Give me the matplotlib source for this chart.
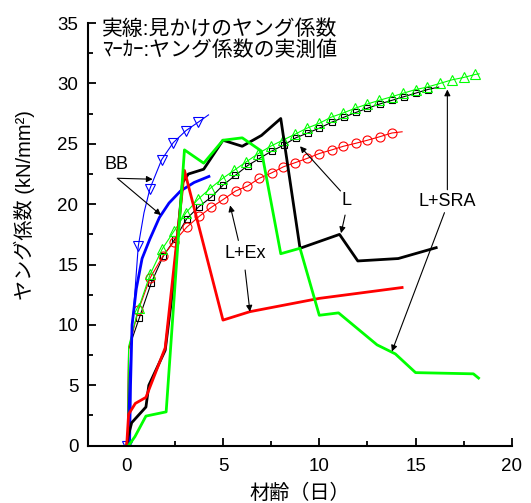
import numpy as np
import matplotlib
matplotlib.use('Agg')
import matplotlib.pyplot as plt

plt.rcParams['font.family'] = ['Liberation Sans', 'Noto Sans CJK JP']

# apparent modulus (thick lines)
bb_x = [0.15, 0.2, 0.28, 0.5, 0.8, 1.2, 1.7, 2.2, 2.8, 3.5, 4.27]
bb_y = [0.0, 5.0, 10.0, 13.0, 15.5, 17.1, 18.9, 20.1, 21.1, 21.8, 22.3]

l_x = [0.0, 0.08, 0.26, 1.0, 1.15, 2.0, 2.4, 2.9, 3.2, 4.0, 5.0, 6.0, 7.0, 8.0, 9.0, 11.05, 12.0, 14.1, 16.07]
l_y = [0.0, 0.8, 1.9, 3.2, 5.0, 7.9, 13.0, 21.8, 22.5, 22.9, 25.3, 24.8, 25.7, 27.1, 16.35, 17.5, 15.3, 15.5, 16.4]

ex_x = [0.0, 0.1, 0.45, 1.0, 2.0, 3.0, 5.0, 6.4, 10.0, 14.3]
ex_y = [0.0, 2.6, 3.5, 4.0, 8.1, 22.8, 10.4, 11.1, 12.2, 13.1]

sra_x = [0.1, 0.43, 1.0, 2.05, 3.0, 4.0, 5.0, 6.0, 7.0, 8.0, 9.0, 10.0, 11.0, 13.0, 13.95, 15.0, 18.0, 18.27]
sra_y = [0.0, 0.75, 2.45, 2.8, 24.5, 23.4, 25.3, 25.5, 24.4, 15.9, 16.35, 10.8, 11.0, 8.35, 7.6, 6.05, 5.95, 5.6]

# measured values (markers) and the fitted thin lines through them
bbm_x = [0.0, 0.6, 1.21, 1.82, 2.42, 3.08, 3.72]
bbm_y = [0.0, 16.5, 21.3, 23.7, 25.1, 26.1, 26.8]
bbf_x = [0.02, 0.15, 0.3, 0.45, 0.6, 0.9, 1.21, 1.82, 2.42, 3.08, 3.72, 4.25]
bbf_y = [0.0, 6.0, 10.0, 13.2, 16.5, 19.3, 21.3, 23.7, 25.1, 26.1, 26.8, 27.4]

lm_x = [0.66, 1.28, 1.9, 2.5, 3.12, 3.75, 4.4, 5.02, 5.65, 6.28, 6.9, 7.53, 8.15, 8.78,
        9.4, 10.0, 10.65, 11.27, 11.9, 12.5, 13.13, 13.76, 14.38, 15.0, 15.63]
lm_y = [10.6, 13.5, 15.7, 17.1, 18.8, 19.8, 20.6, 21.6, 22.4, 23.2, 23.8, 24.4, 24.9, 25.5,
        25.9, 26.3, 26.8, 27.2, 27.6, 27.95, 28.3, 28.6, 28.9, 29.2, 29.5]

srm_x = [0.62, 1.22, 1.85, 2.47, 3.08, 3.7, 4.33, 4.95, 5.57, 6.2, 6.84, 7.47, 8.1, 8.74, 9.36,
         10.0, 10.6, 11.23, 11.86, 12.5, 13.1, 13.75, 14.37, 15.0, 15.6, 16.25, 16.88, 17.5, 18.1]
srm_y = [11.4, 14.2, 16.3, 17.8, 19.3, 20.4, 21.3, 22.1, 22.8, 23.5, 24.2, 24.8, 25.3, 25.8, 26.3,
         26.7, 27.2, 27.55, 27.95, 28.3, 28.6, 28.9, 29.2, 29.5, 29.7, 30.0, 30.3, 30.5, 30.75]

exm_x = [0.6, 1.22, 1.88, 2.46, 3.12, 3.77, 4.4, 5.02, 5.66, 6.27, 6.89, 7.53, 8.14, 8.76,
         9.38, 10.0, 10.65, 11.25, 11.9, 12.5, 13.16, 13.77]
exm_y = [11.2, 13.9, 15.7, 16.9, 18.1, 19.0, 19.75, 20.4, 21.1, 21.5, 22.15, 22.6, 23.1, 23.45,
         23.8, 24.2, 24.5, 24.8, 25.05, 25.3, 25.6, 25.9]

fig = plt.figure(figsize=(5.31, 5.03), dpi=100)
ax = fig.add_axes([0.166, 0.114, 0.798, 0.84])

# thin fitted lines with markers
ax.plot([0.05, 0.1] + lm_x + [16.2], [0.0, 8.0] + lm_y + [29.7], color='k', lw=0.8)
ax.plot(lm_x, lm_y, ls='none', marker='s', ms=5, mfc='none', mec='k', mew=0.8)
ax.plot([0.05, 0.1] + exm_x + [14.3], [0.0, 8.0] + exm_y + [26.0], color='r', lw=0.8)
ax.plot(exm_x, exm_y, ls='none', marker='o', ms=6.5, mfc='none', mec='r', mew=0.8)
ax.plot([0.05, 0.1] + srm_x + [18.3], [0.0, 8.2] + srm_y + [30.8], color='#00ff00', lw=0.8)
ax.plot(srm_x, srm_y, ls='none', marker='^', ms=7.5, mfc='none', mec='#00ff00', mew=0.8)
ax.plot(bbf_x, bbf_y, color='b', lw=0.8)
ax.plot(bbm_x, bbm_y, ls='none', marker='v', ms=7.5, mfc='none', mec='b', mew=0.8)

# apparent modulus
ax.plot(bb_x, bb_y, color='b', lw=2.0)
ax.plot(l_x, l_y, color='k', lw=2.0)
ax.plot(ex_x, ex_y, color='r', lw=2.0)
ax.plot(sra_x, sra_y, color='#00ff00', lw=2.0)

ax.set_xlim(-2, 20)
ax.set_ylim(0, 35)
ax.set_xticks([0, 5, 10, 15, 20])
ax.set_xticks([2.5, 7.5, 12.5, 17.5], minor=True)
ax.set_yticks(np.arange(0, 36, 5))
ax.set_yticks(np.arange(2.5, 35, 5), minor=True)
ax.tick_params(which='both', direction='in', width=1.3, labelsize=13.5)
ax.tick_params(which='major', length=6)
ax.tick_params(which='minor', length=3.5)
ax.tick_params(axis='x', pad=9)
ax.tick_params(axis='y', pad=7)
for s in ['top', 'right']:
    ax.spines[s].set_visible(False)
for s in ['left', 'bottom']:
    ax.spines[s].set_linewidth(1.5)

ax.set_xlabel('材齢（日）', fontsize=14.5, labelpad=6)
ax.set_ylabel('ヤング係数 (kN/mm²)', fontsize=14.5)
ax.yaxis.set_label_coords(-0.125, 0.57)

ax.text(4.82, 34.5, '実線:見かけのヤング係数', fontsize=15, ha='center', va='center')
ax.text(4.82, 32.8, 'ﾏｰｶｰ:ヤング係数の実測値', fontsize=15, ha='center', va='center')

arw = dict(arrowstyle='-|>', color='k', lw=0.8, mutation_scale=9, shrinkA=0, shrinkB=0)

ax.text(-0.55, 23.3, 'BB', fontsize=13, ha='center', va='center')
ax.annotate('', xy=(1.35, 22.07), xytext=(-0.49, 22.15), arrowprops=arw)
ax.annotate('', xy=(1.78, 19.1), xytext=(-0.45, 22.1), arrowprops=arw)

ax.text(6.15, 15.9, 'L+Ex', fontsize=13, ha='center', va='center')
ax.annotate('', xy=(5.37, 19.9), xytext=(5.8, 17.0), arrowprops=arw)
ax.annotate('', xy=(6.4, 11.1), xytext=(6.15, 14.55), arrowprops=arw)

ax.text(11.43, 20.3, 'L', fontsize=13, ha='center', va='center')
ax.annotate('', xy=(9.0, 24.8), xytext=(11.1, 21.1), arrowprops=arw)
ax.annotate('', xy=(11.13, 17.6), xytext=(11.34, 19.1), arrowprops=arw)

ax.text(16.62, 20.2, 'L+SRA', fontsize=13, ha='center', va='center')
ax.annotate('', xy=(16.65, 29.5), xytext=(16.65, 21.2), arrowprops=arw)
ax.annotate('', xy=(13.77, 7.8), xytext=(16.5, 19.3), arrowprops=arw)

fig.savefig('out.png', dpi=100)
